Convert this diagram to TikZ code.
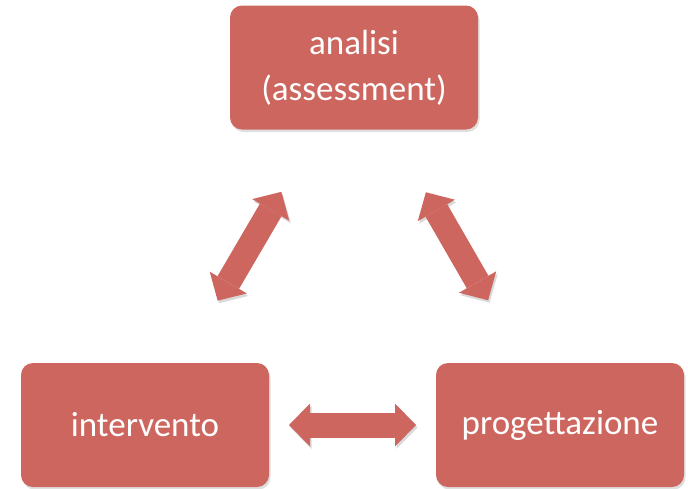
\documentclass[tikz,border=0pt]{standalone}
\usepackage{fontspec}
\setmainfont{Carlito}
\usepackage{tikz}
\usetikzlibrary{arrows.meta}
\usetikzlibrary{shadows}
\definecolor{boxred}{RGB}{205,102,95}

\begin{document}
\begin{tikzpicture}[x=1pt,y=1pt,
  fase/.style={fill=boxred,text=white,rounded corners=12pt,
    minimum width=248pt,minimum height=124pt,align=center,
    font=\fontsize{35}{46}\selectfont,
    drop shadow={shadow xshift=1.5pt,shadow yshift=-2.5pt,opacity=0.25}},
  freccia/.style={draw=boxred,line width=25pt,{Triangle[length=21pt,width=43pt,line width=0pt]}-{Triangle[length=21pt,width=43pt,line width=0pt]},
    shorten <=144pt,shorten >=144pt,
    preaction={draw=black!15,transform canvas={shift={(1.5pt,-2.5pt)}}}}]
\useasboundingbox (0,0) rectangle (688,-488);

\node[fase] (analisi) at (354,-67.5) {analisi\\(assessment)};
\node[fase] (intervento) at (145,-425) {\raisebox{-3pt}{intervento}};
\node[fase] (progettazione) at (560,-425) {\raisebox{-3pt}{progettazione}};

% frecce doppie
\draw[freccia] (intervento.center) -- (analisi.center);
\draw[freccia] (analisi.center) -- (progettazione.center);
\draw[freccia] (intervento.center) -- (progettazione.center);
\end{tikzpicture}
\end{document}
